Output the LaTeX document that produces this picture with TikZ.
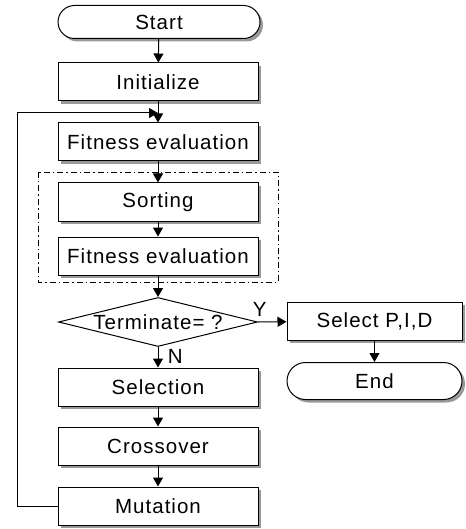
\documentclass[tikz,border=0pt]{standalone}
\usepackage{fontspec}
\setmainfont{Liberation Sans}[LetterSpace=5]
\usetikzlibrary{arrows.meta}
\usetikzlibrary{shapes.geometric}
\usetikzlibrary{shapes.misc}
\usetikzlibrary{shadows}

\tikzset{
  shade3/.style={drop shadow={shadow xshift=3pt,shadow yshift=-3pt,fill=gray!80,opacity=1}},
  block/.style={rectangle,draw,fill=white,line width=1pt,minimum width=200pt,minimum height=38pt,inner sep=0pt,shade3},
  term/.style={rounded rectangle,draw,fill=white,line width=1pt,minimum height=35pt,inner sep=0pt,shade3},
  decision/.style={diamond,draw,fill=white,line width=1pt,minimum width=199pt,minimum height=49pt,inner sep=0pt},
  flow/.style={line width=1pt,-{Triangle[length=9pt,width=10pt]}}
}

\begin{document}
\begin{tikzpicture}[x=1pt,y=-1pt,font=\fontsize{20.5}{24}\selectfont]
        \useasboundingbox (0,0) rectangle (465,529);
        % main column
        \node[term,minimum width=202pt,minimum height=33pt] (start) at (159,22) {Start};
        \node[block] (init) at (158,82) {Initialize};
        \node[block] (fit1) at (158,142) {Fitness evaluation};
        \node[block] (sort) at (158,202) {Sorting};
        \node[block] (fit2) at (158,256) {Fitness evaluation};
        \node[decision,label=center:{Terminate= ?}] (term) at (158,322) {};
        \node[block] (sel) at (158,387) {Selection};
        \node[block] (cross) at (158,446) {Crossover};
        \node[block] (mut) at (158,506) {Mutation};
        % right branch
        \node[block,minimum width=175pt] (pid) at (374.5,321) {Select P,I,D};
        \node[term,minimum width=175pt,minimum height=37pt] (end) at (374.5,381) {End};
        % dash-dot frame
        \draw[line width=0.9pt,dash pattern=on 6pt off 3pt on 1.5pt off 3pt] (38,172) rectangle (278,282);
        % arrows
        \draw[flow] (start) -- (init);
        \draw[flow] (init) -- (fit1);
        \draw[flow] (fit1) -- (sort);
        \draw[flow] (sort) -- (fit2);
        \draw[flow] (fit2) -- (term);
        \draw[flow] (term) -- node[right,pos=0.45,xshift=6pt]{N} (sel);
        \draw[flow] (sel) -- (cross);
        \draw[flow] (cross) -- (mut);
        \draw[flow] (term.east) -- node[above,pos=0.06,yshift=2pt]{Y} (pid);
        \draw[flow] (pid) -- (end);
        % loop back
        \coordinate (back) at (158,113);
        \draw[flow] (mut.west) -- (17,506) -- (17,113) -- (back);
    \end{tikzpicture}
\end{document}
